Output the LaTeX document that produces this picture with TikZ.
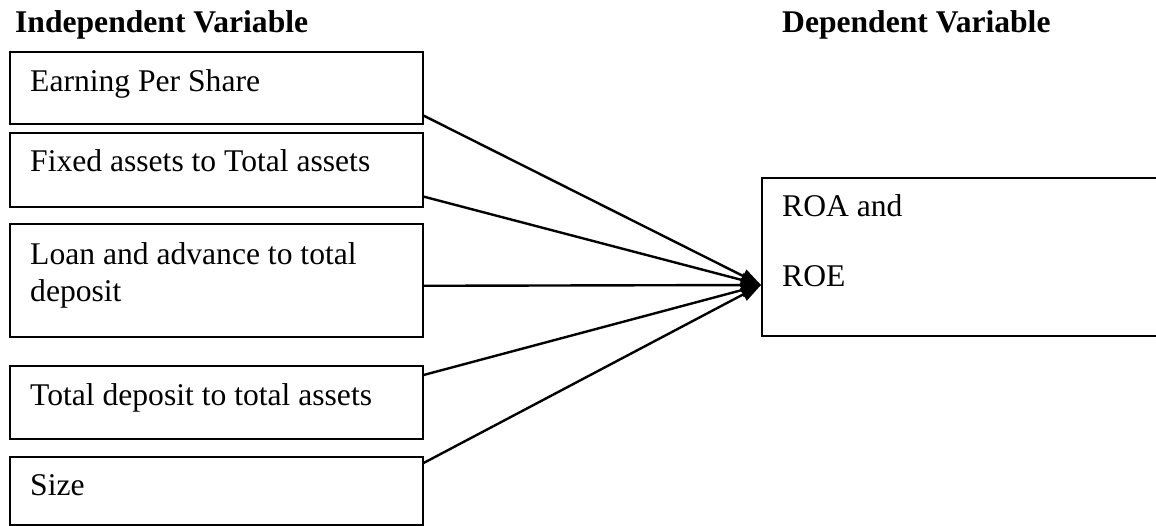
\documentclass[tikz,border=0pt]{standalone}
\usepackage{fontspec}
\setmainfont{Liberation Serif}
\usetikzlibrary{arrows.meta}
\begin{document}
\begin{tikzpicture}[x=1pt,y=-1pt,
  box/.style={draw=black,line width=1.6pt,rectangle,inner sep=0pt,anchor=north west},
  lbl/.style={inner sep=0pt,anchor=base west,font=\fontsize{31.6pt}{38pt}\selectfont},
  hdr/.style={inner sep=0pt,anchor=base west,font=\fontsize{31.6pt}{38pt}\selectfont\bfseries},
  conn/.style={draw=black,line width=2.4pt,-{Triangle[length=20pt,width=14pt]}}]
\clip (0,0) rectangle (1156,526);
\useasboundingbox (0,0) rectangle (1156,526);
\node[hdr] (hi) at (15,33) {Independent Variable};
\node[hdr] (hd) at (782,33) {Dependent Variable};
% left boxes
\node[box,minimum width=413pt,minimum height=72pt] (b1) at (9,51) {};
\node[lbl] (t1) at (30,92) {Earning Per Share};
\node[box,minimum width=413pt,minimum height=74pt] (b2) at (9,132) {};
\node[lbl] (t2) at (30,172) {Fixed assets to Total assets};
\node[box,minimum width=413pt,minimum height=113pt] (b3) at (9,223) {};
\node[lbl] (t3a) at (30,265) {Loan and advance to total};
\node[lbl] (t3b) at (30,302) {deposit};
\node[box,minimum width=413pt,minimum height=73pt] (b4) at (9,365) {};
\node[lbl] (t4) at (30,405) {Total deposit to total assets};
\node[box,minimum width=413pt,minimum height=68pt] (b5) at (9,456) {};
\node[lbl] (t5) at (30,495) {Size};
% right box
\node[box,minimum width=420pt,minimum height=158pt] (r) at (761,177) {};
\node[lbl] (ra) at (782,217) {ROA and};
\node[lbl] (rb) at (782,287) {ROE};
\coordinate (tip) at (761,285);
% connectors
\draw[conn] ([yshift=9pt]b1.south east) -- (tip);
\draw[conn] ([yshift=11pt]b2.south east) -- (tip);
\draw[conn] ([yshift=-5.5pt]b3.east) -- (tip);
\draw[conn] ([yshift=-10pt]b4.north east) -- (tip);
\draw[conn] ([yshift=-7pt]b5.north east) -- (tip);
\end{tikzpicture}
\end{document}
